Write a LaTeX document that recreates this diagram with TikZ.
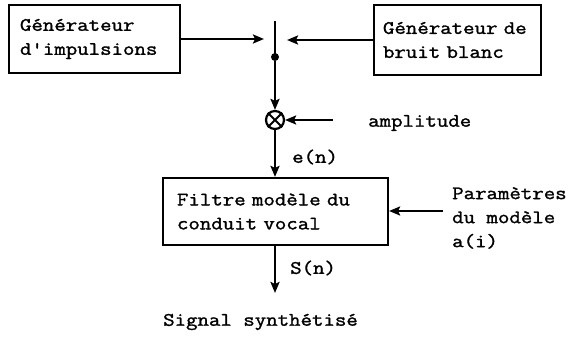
\documentclass[tikz,border=0pt]{standalone}
\usepackage{fontspec}
\newfontfamily\tw{Latin Modern Mono}[FakeStretch=1.17,FakeBold=1.5]
\usetikzlibrary{arrows.meta}
\begin{document}
\begin{tikzpicture}[x=1pt,y=-1pt,
  tfont/.style={font=\tw\fontsize{19}{24}\selectfont},
  box/.style={draw,line width=2.2pt,inner sep=0pt,align=left,tfont},
  lbl/.style={inner sep=0pt,anchor=west,align=left,tfont},
  arr/.style={line width=2.2pt,-{Stealth[length=11pt,width=9pt,inset=2pt]}},
  ln/.style={line width=2.2pt}]
\useasboundingbox (0,0) rectangle (571,338);
\node[box,minimum width=171pt,minimum height=68pt,text width=149pt] (gi) at (94.5,39) {Générateur\\d'impulsions};
\node[box,minimum width=167pt,minimum height=70pt,text width=149pt] (gb) at (457.5,40) {Générateur~de\\bruit blanc};
\node[box,minimum width=225pt,minimum height=67pt,text width=197pt] (filt) at (275.5,211.5) {Filtre modèle du\\conduit vocal};
\coordinate (st) at (275,21);
\node[circle,fill,inner sep=0pt,minimum size=8pt] (dot) at (275,57) {};
\draw[ln] (st) -- (dot.center);
\coordinate (li) at (264,39);
\coordinate (ri) at (287,40);
\draw[arr] (gi.east) -- (li);
\draw[arr] (gb.west) -- (ri);
\node[circle,draw,line width=2.2pt,minimum size=18pt,inner sep=0pt] (mx) at (275,120) {};
\draw[line width=1.8pt] (mx.north west) -- (mx.south east) (mx.north east) -- (mx.south west);
\draw[arr] (dot) -- (mx);
\node[lbl] (amp) at (368,123) {amplitude};
\coordinate (ampin) at (333,120);
\draw[arr] (ampin) -- (mx);
\node[lbl] (en) at (292,157) {e(n)};
\draw[arr] (mx) -- (mx |- filt.north);
\node[lbl] (par) at (452,218) {Paramètres\\du modèle\\a(i)};
\coordinate (pin) at (443,211);
\draw[arr] (pin) -- (pin -| filt.east);
\coordinate (sout) at (275,293);
\draw[arr] (mx |- filt.south) -- (sout);
\node[lbl] (sn) at (290,268) {S(n)};
\node[lbl] (sig) at (163,322) {Signal synthétisé};
\end{tikzpicture}
\end{document}
